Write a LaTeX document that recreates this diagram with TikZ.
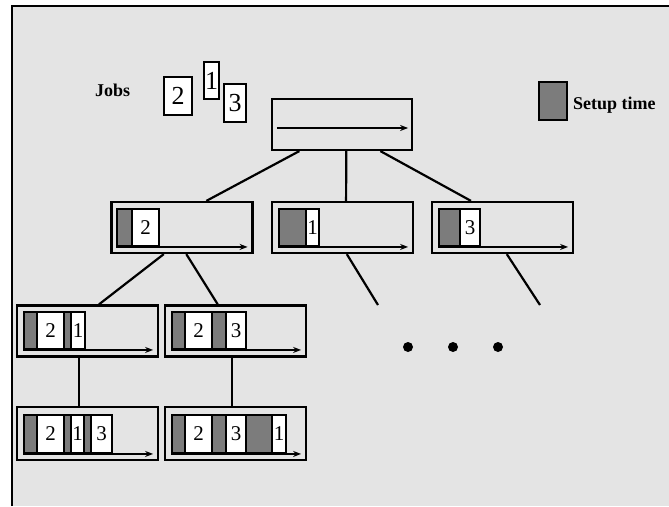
\documentclass[tikz,border=0pt]{standalone}
\usepackage{fontspec}
\setmainfont{Liberation Serif}
\usetikzlibrary{arrows.meta,calc}
\definecolor{bg}{HTML}{E4E4E4}
\definecolor{setup}{HTML}{7C7C7C}
\tikzset{
  sched/.style={draw=black, line width=2.2pt, rectangle, inner sep=0pt, minimum width=141pt, minimum height=51pt},
  segbox/.style={draw=black, line width=1.9pt, rectangle, inner sep=0pt, font=\fontsize{21}{22}\selectfont},
  jobbox/.style={draw=black, fill=white, line width=2pt, rectangle, inner sep=0pt, font=\fontsize{26}{27}\selectfont},
  tl/.style={line width=1.8pt, -{Stealth[length=8pt,width=6pt]}},
  link/.style={line width=2.2pt},
  lbl/.style={font=\fontsize{18}{20}\selectfont\bfseries, inner sep=0pt, anchor=west},
  dot/.style={circle, fill=black, inner sep=0pt, minimum size=10pt}
}
\newcommand\segm[7]{\node[segbox, fill=#6, minimum width={(#3-#2)*1pt}, minimum height={(#5-#4)*1pt}] (#1) at ({(#2+#3)/2},{(#4+#5)/2}) {#7};}
\begin{document}
\begin{tikzpicture}[x=1pt,y=-1pt]
\useasboundingbox (0,0) rectangle (669,506);
\fill[white] (0,0) rectangle (669,506);
\fill[bg] (12,6) rectangle (669,506);
\draw[line width=1.8pt] (12,506) -- (12,6) -- (669,6);

% legend
\node[lbl] (jobs) at (95,90) {Jobs};
\node[jobbox, minimum width=28pt, minimum height=38pt] (j2) at (178,96) {2};
\node[jobbox, minimum width=15pt, minimum height=37pt] (j1) at (211.5,80.5) {1};
\node[jobbox, minimum width=22pt, minimum height=38pt] (j3) at (235,103) {3};
\node[draw=black, fill=setup, line width=2pt, minimum width=28pt, minimum height=38pt, inner sep=0pt] (leg) at (553,101) {};
\node[lbl] (legt) at (573,105) {Setup time};

% root
\node[sched, minimum width=140pt] (root) at (342,124.5) {};
\draw[tl] ([shift={(6,3.5)}]root.west) -- ([shift={(-5,3.5)}]root.east);

% level 1
\node[sched] (A) at (182,227.5) {};
\node[sched] (B) at (342.5,227.5) {};
\node[sched] (C) at (502.5,227.5) {};
\segm{A1}{117}{132}{209}{246}{setup}{}
\segm{A2}{132}{159}{209}{246}{white}{2}
\segm{B1}{279}{306}{209}{246}{setup}{}
\segm{B2}{306}{319}{209}{246}{white}{1}
\segm{C1}{439}{460}{209}{246}{setup}{}
\segm{C2}{460}{480}{209}{246}{white}{3}
\draw[tl] (A1.south west) -- ([xshift=-6pt]A1.south west -| A.east);
\draw[tl] (B1.south west) -- ([xshift=-6pt]B1.south west -| B.east);
\draw[tl] (C1.south west) -- ([xshift=-6pt]C1.south west -| C.east);

% level 2
\node[sched] (D) at (87.5,331) {};
\node[sched] (E) at (235.5,331) {};
\segm{D1}{24}{37}{312}{349}{setup}{}
\segm{D2}{37}{64}{312}{349}{white}{2}
\segm{D3}{64}{71}{312}{349}{setup}{}
\segm{D4}{71}{85}{312}{349}{white}{1}
\segm{E1}{172}{185}{312}{349}{setup}{}
\segm{E2}{185}{212}{312}{349}{white}{2}
\segm{E3}{212}{226}{312}{349}{setup}{}
\segm{E4}{226}{246}{312}{349}{white}{3}
\draw[tl] (D1.south west) -- ([xshift=-6pt]D1.south west -| D.east);
\draw[tl] (E1.south west) -- ([xshift=-6pt]E1.south west -| E.east);

% level 3
\node[sched, minimum height=53pt] (F) at (87.5,433.5) {};
\node[sched, minimum height=53pt] (G) at (235.5,433.5) {};
\segm{F1}{24}{37}{415}{453}{setup}{}
\segm{F2}{37}{64}{415}{453}{white}{2}
\segm{F3}{64}{71}{415}{453}{setup}{}
\segm{F4}{71}{84}{415}{453}{white}{1}
\segm{F5}{84}{91}{415}{453}{setup}{}
\segm{F6}{91}{112}{415}{453}{white}{3}
\segm{G1}{172}{185}{415}{453}{setup}{}
\segm{G2}{185}{212}{415}{453}{white}{2}
\segm{G3}{212}{226}{415}{453}{setup}{}
\segm{G4}{226}{246}{415}{453}{white}{3}
\segm{G5}{246}{272}{415}{453}{setup}{}
\segm{G6}{272}{286}{415}{453}{white}{1}
\draw[tl] (F1.south west) -- ([xshift=-6pt]F1.south west -| F.east);
\draw[tl] (G1.south west) -- ([xshift=-6pt]G1.south west -| G.east);

% connectors
\draw[link] ($(root.south west)!0.2!(root.south east)$) -- ($(A.north west)!0.67!(A.north east)$);
\draw[link] ($(root.south west)!0.53!(root.south east)$) -- ($(B.north west)!0.525!(B.north east)$);
\draw[link] ($(root.south west)!0.77!(root.south east)$) -- ($(C.north west)!0.28!(C.north east)$);
\draw[link] ($(A.south west)!0.373!(A.south east)$) -- ($(D.north west)!0.58!(D.north east)$);
\draw[link] ($(A.south west)!0.53!(A.south east)$) -- ($(E.north west)!0.376!(E.north east)$);
\draw[link] ($(D.south west)!0.44!(D.south east)$) -- ($(F.north west)!0.44!(F.north east)$);
\draw[link] ($(E.south west)!0.475!(E.south east)$) -- ($(G.north west)!0.475!(G.north east)$);
\coordinate (Bx) at (378,305);
\coordinate (Cx) at (540,305);
\draw[link] ($(B.south west)!0.53!(B.south east)$) -- (Bx);
\draw[link] ($(C.south west)!0.53!(C.south east)$) -- (Cx);

% dots
\node[dot] (d1) at (408,347) {};
\node[dot] (d2) at (453,347) {};
\node[dot] (d3) at (498,347) {};
\end{tikzpicture}
\end{document}
